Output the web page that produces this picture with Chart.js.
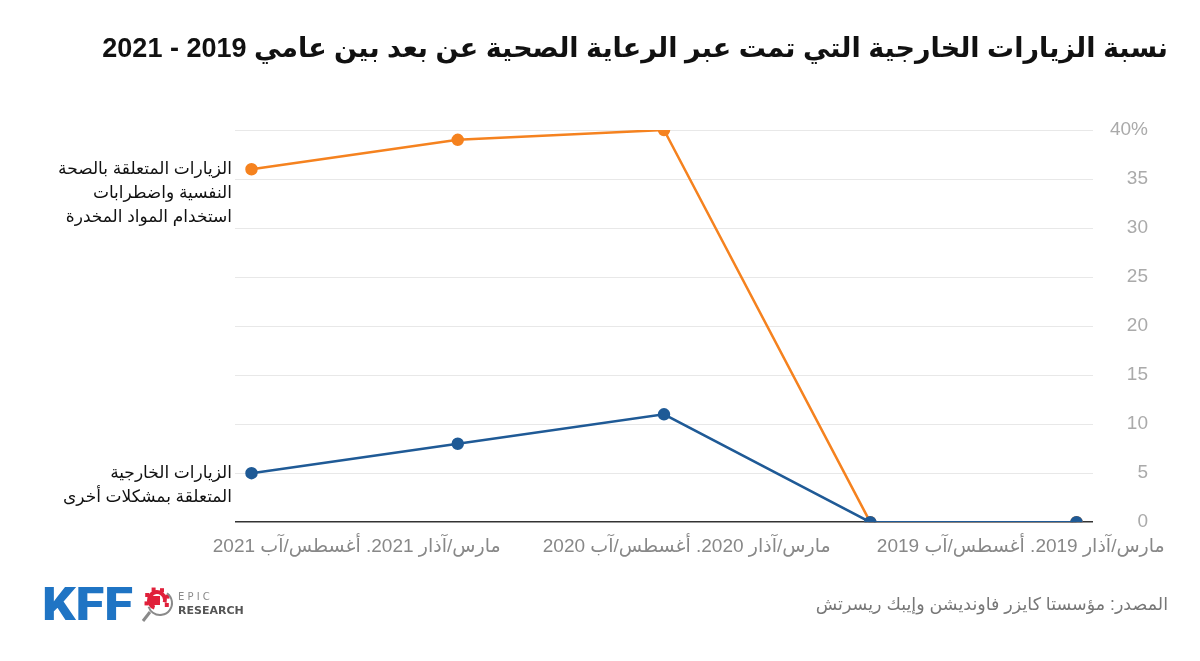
<!DOCTYPE html>
<html lang="ar">
<head>
<meta charset="utf-8">
<script src="https://cdn.jsdelivr.net/npm/chart.js@4"></script>
<style>
  html, body { margin: 0; padding: 0; background: #fff; }
  #wrap { width: 1200px; height: 661px; position: relative; }
  canvas { direction: rtl; }
</style>
</head>
<body>
<div id="wrap"><canvas id="chart" dir="rtl"></canvas></div>
<script>
// data
const periods = ["مارس/آذار 2019", "أغسطس/آب 2019", "مارس/آذار 2020", "أغسطس/آب 2020", "مارس/آذار 2021"];
const mentalHealth = [0, 0, 40, 39, 36];
const otherConditions = [0, 0, 11, 8, 5];
const mentalHealthName = ["الزيارات المتعلقة بالصحة", "النفسية واضطرابات", "استخدام المواد المخدرة"];
const otherName = ["الزيارات الخارجية", "المتعلقة بمشكلات أخرى"];
const xTickLabels = ["مارس/آذار 2019. أغسطس/آب 2019", "مارس/آذار 2020. أغسطس/آب 2020", "مارس/آذار 2021. أغسطس/آب 2021"];
const xTickAt = [0.27, 1.89, 3.49];
const yTicks = [0, 5, 10, 15, 20, 25, 30, 35, 40];

const title = "نسبة الزيارات الخارجية التي تمت عبر الرعاية الصحية عن بعد بين عامي 2019 - 2021";
const source = "المصدر: مؤسستا كايزر فاونديشن وإيبك ريسرتش";

const FONT = "'Liberation Sans', 'DejaVu Sans', sans-serif";
const ORANGE = "#f5821f";
const BLUE = "#1f5a96";

function toPoints(values) {
  return values.map((v, i) => ({ x: i, y: v }));
}

// series names written to the left of the latest point
const endLabels = {
  id: "endLabels",
  afterDatasetsDraw(chart) {
    const ctx = chart.ctx;
    const left = chart.chartArea.left - 3;
    ctx.save();
    ctx.font = "17px " + FONT;
    ctx.fillStyle = "#111";
    ctx.textAlign = "right";
    ctx.textBaseline = "middle";
    chart.data.datasets.forEach((ds, di) => {
      const meta = chart.getDatasetMeta(di);
      const last = meta.data[meta.data.length - 1];
      ds.nameLines.forEach((line, li) => {
        ctx.fillText(line, left, last.y + li * 24);
      });
    });
    ctx.restore();
  },
};

// KFF and Epic Research marks in the bottom left
const logos = {
  id: "logos",
  afterDraw(chart) {
    const ctx = chart.ctx;
    ctx.save();
    ctx.direction = "ltr";
    ctx.textBaseline = "alphabetic";
    ctx.textAlign = "left";
    ctx.fillStyle = "#1f74c4";
    ctx.font = "900 46px Roboto, 'Liberation Sans', sans-serif";
    const w = ctx.measureText("KFF").width;
    ctx.translate(42, 620);
    ctx.scale(91 / w, 1);
    ctx.fillText("KFF", 0, 0);
    ctx.restore();

    ctx.save();
    // gear
    ctx.strokeStyle = "#e0203a";
    ctx.fillStyle = "#e0203a";
    ctx.lineWidth = 4;
    ctx.beginPath();
    ctx.arc(157, 600, 8, Math.PI * 0.6, Math.PI * 2.1);
    ctx.stroke();
    for (let k = 0; k < 6; k++) {
      const a = Math.PI * 0.9 + k * Math.PI * 0.25;
      ctx.fillRect(157 + Math.cos(a) * 11 - 2, 600 + Math.sin(a) * 11 - 2, 4, 4);
    }
    ctx.fillRect(151, 596, 9, 9);
    // magnifier
    ctx.strokeStyle = "#8a8a8a";
    ctx.lineWidth = 2;
    ctx.beginPath();
    ctx.arc(160, 603, 12, Math.PI * 1.7, Math.PI * 0.9);
    ctx.stroke();
    ctx.lineWidth = 3;
    ctx.beginPath();
    ctx.moveTo(150, 612);
    ctx.lineTo(143, 621);
    ctx.stroke();
    // words
    ctx.direction = "ltr";
    ctx.textAlign = "left";
    ctx.fillStyle = "#8a8a8a";
    ctx.font = "10px 'DejaVu Sans', sans-serif";
    ctx.fillText("E P I C", 178, 600);
    ctx.fillStyle = "#555";
    ctx.font = "bold 11px 'DejaVu Sans', sans-serif";
    ctx.fillText("RESEARCH", 178, 614);
    ctx.restore();
  },
};

new Chart(document.getElementById("chart"), {
  type: "line",
  data: {
    labels: periods,
    datasets: [
      {
        label: otherName.join(" "),
        nameLines: otherName,
        data: toPoints(otherConditions),
        borderColor: BLUE,
        backgroundColor: BLUE,
        borderWidth: 2.5,
        pointRadius: 5,
        pointHoverRadius: 5,
        tension: 0,
      },
      {
        label: mentalHealthName.join(" "),
        nameLines: mentalHealthName,
        data: toPoints(mentalHealth),
        borderColor: ORANGE,
        backgroundColor: ORANGE,
        borderWidth: 2.5,
        pointRadius: 5,
        pointHoverRadius: 5,
        tension: 0,
      },
    ],
  },
  options: {
    responsive: true,
    maintainAspectRatio: false,
    animation: false,
    layout: { padding: { left: 0, right: 32, top: 0, bottom: 0 } },
    plugins: {
      legend: { display: false },
      tooltip: { enabled: false },
      title: {
        display: true,
        text: title,
        align: "end",
        color: "#111",
        font: { family: FONT, size: 27, weight: "bold", lineHeight: 1.2 },
        padding: { top: 33.8, bottom: 63.8 },
      },
      subtitle: {
        display: true,
        position: "bottom",
        text: source,
        align: "end",
        color: "#777",
        font: { family: FONT, size: 17.5, lineHeight: 1.2 },
        padding: { top: 24, bottom: 45 },
      },
    },
    scales: {
      x: {
        type: "linear",
        reverse: true,
        min: -0.08,
        max: 4.08,
        grid: { display: false, drawTicks: false },
        border: { display: false },
        afterBuildTicks(scale) {
          scale.ticks = xTickAt.map((v) => ({ value: v }));
        },
        ticks: {
          autoSkip: false,
          maxRotation: 0,
          padding: 13,
          color: "#888",
          font: { family: FONT, size: 19 },
          callback: (value, index) => xTickLabels[index],
        },
      },
      y: {
        position: "right",
        min: 0,
        max: 40,
        afterBuildTicks(scale) {
          scale.ticks = yTicks.map((v) => ({ value: v }));
        },
        afterFit(scale) {
          scale.width = 55;
        },
        grid: {
          drawTicks: false,
          color: (c) => (c.tick && c.tick.value === 0 ? "#333" : "#e8e8e8"),
          lineWidth: (c) => (c.tick && c.tick.value === 0 ? 1.5 : 1),
        },
        border: { display: false },
        ticks: {
          crossAlign: "far",
          padding: 14,
          color: "#aaa",
          font: { family: FONT, size: 19 },
          callback: (value) => (value === 40 ? value + "%" : value),
        },
      },
      // empty spacers: right one keeps the tick labels short of the title edge,
      // left one leaves room for the series names
      spacer: {
        axis: "y",
        position: "right",
        weight: 1,
        display: true,
        grid: { display: false, drawTicks: false },
        border: { display: false },
        ticks: { display: false },
        afterFit(scale) {
          scale.width = 20;
        },
      },
      room: {
        axis: "y",
        position: "left",
        display: true,
        grid: { display: false, drawTicks: false },
        border: { display: false },
        ticks: { display: false },
        afterFit(scale) {
          scale.width = 235;
        },
      },
    },
  },
  plugins: [endLabels, logos],
});
</script>
</body>
</html>
